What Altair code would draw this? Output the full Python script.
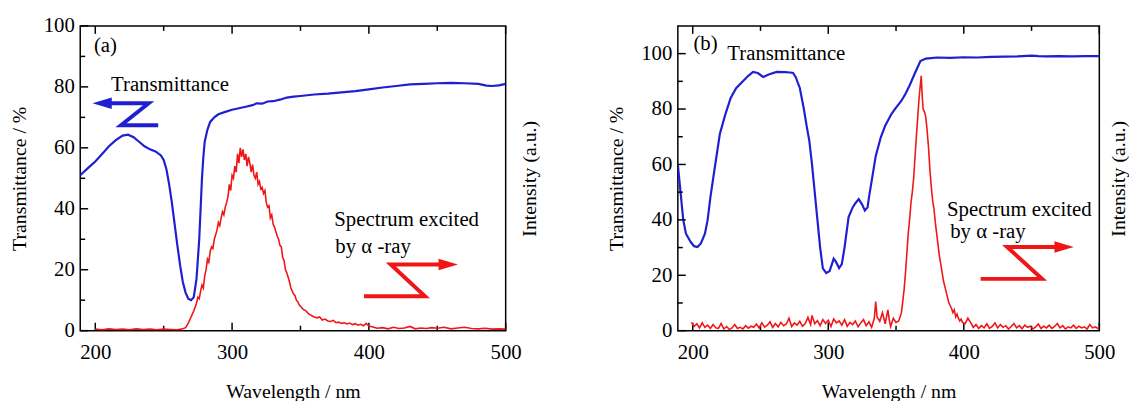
import altair as alt
import pandas as pd

FONT = "Liberation Serif"
BLUE = "#1f1fd2"
RED = "#f01616"
FS = 20     # axis titles
FL = 21     # tick labels
FA = 21     # annotations

# ---------------- Panel (a) ----------------
a_blue_nm = [189, 195, 200, 205, 210, 215, 220, 224, 228, 232, 236, 240, 244, 248, 250, 252, 254, 256, 258, 260,
             262, 264, 266, 268, 270, 272, 274, 276, 277, 278, 279, 280, 282, 284, 287, 290, 295, 300, 305, 310,
             315, 318, 322, 326, 330, 335, 340, 345, 350, 360, 370, 380, 390, 400, 410, 420, 430, 440, 450, 460,
             470, 480, 486, 490, 495, 500]
a_blue_t = [51, 53.5, 55.5, 58, 60.5, 62.5, 64, 64.3, 63.5, 62, 60.5, 59.5, 58.8, 57.5, 56, 53, 48, 42, 35, 28,
            21.5, 16, 12.5, 10.5, 10, 11, 17, 30, 40, 50, 57, 62, 66, 68.5, 70, 71, 71.8, 72.5, 73, 73.5,
            74, 74.6, 74.5, 75.2, 75.3, 75.8, 76.5, 76.8, 77, 77.5, 77.8, 78.2, 78.6, 79.2, 79.8, 80.3, 80.8, 81, 81.2, 81.3,
            81.2, 81, 80.4, 80.3, 80.5, 81]

a_red_nm = [200, 205, 210, 215, 220, 225, 230, 235, 240, 245, 250, 255, 260, 263, 266, 268, 270, 272, 274, 275,
            276, 277, 278, 279, 280, 281, 282, 283, 284, 285, 286, 287, 288, 289, 290, 291, 292, 293, 294, 295,
            296, 297, 298, 299, 300, 301, 302, 303, 304, 305, 306, 307, 308, 309, 310, 311, 312, 313, 314, 315,
            316, 317, 318, 319, 320, 321, 322, 323, 324, 325, 326, 327, 328, 329, 330, 331, 332, 333, 334, 335,
            336, 337, 338, 339, 340, 341, 342, 343, 344, 345, 346, 347, 348, 349, 350, 352, 354, 356, 358, 360,
            362, 364, 366, 368, 370, 372, 374, 376, 378, 380, 382, 384, 386, 388, 390, 392, 394, 396, 398, 400,
            403, 406, 410, 414, 418, 422, 426, 430, 434, 438, 442, 446, 450, 455, 460, 465, 470, 475, 480, 485,
            490, 495, 500]
a_red_i = [0.5, 0.3, 0.6, 0.4, 0.5, 0.3, 0.6, 0.4, 0.5, 0.3, 0.5, 0.4, 0.3, 0.5, 1.0, 2.5, 4.5, 6.5, 9, 11,
           10.5, 13, 15, 14, 18, 20, 23.5, 22.5, 26, 27.5, 27, 30, 31.5, 33, 35.5, 34.5, 37, 39, 38, 40.5,
           42, 44, 48, 46, 51, 50, 54, 52, 58, 55, 60, 57, 59.5, 56, 58, 54, 57, 55, 52, 54.5,
           51, 50, 52, 48, 49, 46.5, 47, 45, 46, 42, 40.5, 41, 37, 38, 35, 34, 32.5, 31, 30, 28,
           27.5, 24, 23, 20, 19, 17.5, 16, 14, 13, 12, 11.5, 10, 9.5, 8.5, 8, 7, 6.5, 5.5, 5, 4.5,
           4.2, 4.5, 3.5, 3.8, 3.2, 3, 3.4, 2.6, 2.8, 2.4, 2.6, 2.2, 2.5, 2.0, 2.3, 1.8, 2.1, 1.6, 2.4, 1.5,
           1.2, 0.8, 1.0, 0.6, 1.1, 0.7, 0.9, 1.4, 0.6, 0.9, 0.7, 1.0, 0.8, 1.1, 0.6, 0.9, 1.1, 0.7, 0.6, 0.8,
           0.5, 0.6, 0.5]

a_text_x = [199, 211.5, 374.7, 375.5]
a_text_y = [93.4, 80.7, 36.3, 27.5]
a_text = ["(a)", "Transmittance", "Spectrum excited", "by  \u03b1 -ray"]

a_barrow_x = [208, 239, 218.8, 246]
a_barrow_y = [74.6, 74.6, 67.4, 67.4]
a_bhead = (205, 74.6)
a_rarrow_x = [396.4, 441, 416, 455]
a_rarrow_y = [11.3, 11.3, 21.7, 21.7]
a_rhead = (458, 21.7)

# ---------------- Panel (b) ----------------
b_blue_nm = [189, 191, 193, 195, 198.5, 201, 203.5, 206, 209, 211, 213, 216, 220, 224, 228, 232, 237, 241, 244.5, 248,
             252, 256, 262, 268, 272, 274, 276, 279, 282, 284, 286, 288, 290, 292, 294, 296, 298.5, 301, 303, 304,
             305.5, 308, 310, 312, 315, 318, 320, 322.5, 325, 327, 329, 330, 332, 335, 338.7, 342, 346.7, 350, 354, 357,
             360, 364, 368, 372, 376, 380, 390, 400, 410, 420, 430, 440, 450, 455, 460, 470, 480, 490, 500]
b_blue_t = [60, 50, 40, 35, 32, 30.5, 30.2, 31.5, 35, 40, 48, 58, 71, 78, 84, 87.5, 90, 92, 93.4, 93,
            91.6, 92.5, 93.4, 93.3, 93.2, 93, 91.5, 87.6, 80, 74, 68.6, 60, 50, 40, 30, 22.5, 20.8, 21.5, 24.5, 26,
            25, 22.6, 24, 30, 41, 44.5, 46, 47.5, 45.5, 43.4, 44.5, 48, 54, 63, 69.7, 74, 78.3, 80.5, 83, 85.5,
            88.5, 93, 97.3, 98.2, 98.4, 98.6, 98.5, 98.7, 98.6, 98.8, 98.9, 99, 99.3, 99.1, 99, 99.1, 99, 99.1, 99.1]

b_red_nm = [199, 201, 203, 205, 207, 209, 211, 213, 215, 217, 219, 221, 223, 225, 227, 229, 231, 233, 235, 237,
            239, 241, 243, 245, 247, 249, 251, 253, 255, 257, 259, 261, 263, 265, 267, 269, 271, 273, 275, 277,
            279, 281, 283, 285, 287, 288, 290, 292, 294, 296, 298, 300, 302, 304, 306, 308, 310, 312, 314, 316,
            318, 320, 322, 324, 326, 328, 330, 332, 334, 335, 336, 338, 340, 342, 344, 345, 346, 348, 350, 352,
            354, 356, 357, 358, 359, 360, 361, 362, 363, 364, 365, 366, 367, 368, 368.6, 369.3, 370, 371, 372, 373,
            374, 375, 376, 377, 378, 379, 380, 381, 382, 383, 384, 385, 386, 387, 388, 389, 390, 391, 392, 393,
            394, 395, 396, 397, 398, 399, 401, 403, 405, 407, 409, 411, 413, 415, 417, 419, 421, 423, 425, 427,
            429, 431, 433, 435, 437, 439, 441, 443, 445, 447, 449, 451, 453, 455, 457, 459, 461, 463, 465, 467,
            469, 471, 473, 475, 477, 479, 481, 483, 485, 487, 489, 491, 493, 495, 497, 499, 500]
b_red_i = [3, 1.5, 2.5, 1, 2.8, 1.2, 2, 0.8, 2.2, 1.0, 0.8, 2.6, 0.6, 1.5, 0.4, 1.0, 2.2, 0.8, 1.2, 0.6,
           1.8, 0.9, 1.6, 1.2, 2.4, 1.0, 2.8, 1.3, 2.0, 3.2, 1.2, 2.6, 1.4, 3.0, 1.8, 2.4, 4.5, 1.5, 2.8, 2.0,
           3.4, 1.6, 2.6, 4.8, 2.2, 5.5, 2.5, 3.6, 1.8, 4.0, 2.6, 3.8, 1.5, 4.2, 2.8, 3.5, 2.0, 4.0, 1.6, 3.0,
           2.2, 3.5, 1.4, 2.8, 4.0, 1.8, 3.2, 1.2, 4.5, 10.5, 5, 3.4, 6.5, 2.5, 7.5, 4, 1.5, 4.5, 3, 3.5,
           6.5, 15, 21, 28, 35, 40, 46, 50, 55, 62.5, 70, 77, 84, 89, 92, 85, 80, 79, 77, 72,
           66, 58, 52, 47, 44, 39, 35, 31, 27, 24, 21, 18, 16, 14, 12, 10, 9, 8, 6.5, 7.5,
           5, 6, 4.5, 3.5, 4.2, 3, 2.5, 4.5, 3, 1.2, 2.2, 0.8, 1.8, 1.0, 2.5, 0.8, 1.5, 2.8, 1.0, 2.2,
           1.2, 1.8, 0.6, 1.5, 2.6, 1.0, 1.8, 0.7, 2.0, 1.2, 1.6, 0.6, 1.4, 2.4, 0.8, 1.6, 1.0, 2.0, 0.8, 1.5,
           2.6, 1.0, 1.8, 0.6, 1.4, 1.0, 2.0, 0.8, 1.6, 1.0, 1.4, 0.6, 2.2, 1.0, 1.4, 0.8, 1.2]

b_text_x = [200.5, 225.5, 387.6, 390]
b_text_y = [103.4, 99.8, 43.4, 35.5]
b_text = ["(b)", "Transmittance", "Spectrum excited", "by  \u03b1 -ray"]

b_rarrow_x = [412.4, 457.7, 432, 470]
b_rarrow_y = [18.7, 18.7, 30.2, 30.2]
b_rhead = (474, 30.2)

x_major = [200, 300, 400, 500]
x_minor = [250, 350, 450]
a_y_major = [0, 20, 40, 60, 80, 100]
a_y_minor = [10, 30, 50, 70, 90]
b_y_major = [0, 20, 40, 60, 80, 100]
b_y_minor = [10, 30, 50, 70, 90]

XDOM = [189, 500]
HEAD_RIGHT = "M-1,-0.6L1,0L-1,0.6Z"
HEAD_LEFT = "M1,-0.6L-1,0L1,0.6Z"


def panel(blue_nm, blue_t, red_nm, red_i, ymax, ymaj, ymin, tx, ty, tt,
          rarrow, rhead, barrow, bhead, W, H, right_pad):
    xs = alt.Scale(domain=XDOM, nice=False, zero=False)
    ys = alt.Scale(domain=[0, ymax], nice=False)
    XA = alt.Axis(
        values=x_major, ticks=False, tickSize=0, domain=False, grid=False, labelFlush=False,
        labelFont=FONT, labelFontSize=FL, labelPadding=11, labelColor="black",
        title="Wavelength / nm", titleFont=FONT, titleFontSize=FS,
        titleFontWeight="normal", titlePadding=20, titleColor="black")
    YA = alt.Axis(
        values=ymaj, ticks=False, tickSize=0, domain=False, grid=False, labelFlush=False,
        labelFont=FONT, labelFontSize=FL, labelPadding=6, labelColor="black",
        title="Transmittance / %", titleFont=FONT, titleFontSize=FS,
        titleFontWeight="normal", titlePadding=14, titleColor="black")

    def X(f):
        return alt.X(f, scale=xs, axis=XA, title="Wavelength / nm")

    def Y(f):
        return alt.Y(f, scale=ys, axis=YA, title="Transmittance / %")

    blue = alt.Chart(pd.DataFrame({"w": blue_nm, "t": blue_t})).mark_line(
        color=BLUE, strokeWidth=2.2, clip=True
    ).encode(x=X("w:Q"), y=Y("t:Q"))

    def ytick(vals, L):
        return alt.Chart(pd.DataFrame({"v": vals})).mark_rule(color="black", strokeWidth=1.5).encode(
            y=Y("v:Q"), x=alt.value(0), x2=alt.value(L))

    def xtick(vals, L, top=False):
        if top:
            yv, y2v = alt.value(0), alt.value(L)
        else:
            yv, y2v = alt.value(H), alt.value(H - L)
        return alt.Chart(pd.DataFrame({"v": vals})).mark_rule(color="black", strokeWidth=1.5).encode(
            x=X("v:Q"), y=yv, y2=y2v)

    texts = alt.Chart(pd.DataFrame({"x": tx, "y": ty, "s": tt})).mark_text(
        font=FONT, fontSize=FA, align="left", baseline="middle", color="black"
    ).encode(x=X("x:Q"), y=Y("y:Q"), text="s:N")

    layers = [blue, ytick(ymaj, 8), ytick(ymin, 5), xtick(x_major, 8), xtick(x_minor, 5),
              xtick(x_major, 8, True), xtick(x_minor, 5, True), texts]

    def arrow(ax, ay, head, color, shape):
        line = alt.Chart(pd.DataFrame({"x": ax, "y": ay, "o": list(range(len(ax)))})).mark_line(
            color=color, strokeWidth=4, strokeJoin="miter"
        ).encode(x=X("x:Q"), y=Y("y:Q"), order="o:Q")
        hd = alt.Chart(pd.DataFrame({"x": [head[0]], "y": [head[1]]})).mark_point(
            shape=shape, filled=True, color=color, opacity=1, size=380, strokeWidth=0
        ).encode(x=X("x:Q"), y=Y("y:Q"))
        return [line, hd]

    layers += arrow(rarrow[0], rarrow[1], rhead, RED, HEAD_RIGHT)
    if barrow is not None:
        layers += arrow(barrow[0], barrow[1], bhead, BLUE, HEAD_LEFT)

    inner = alt.layer(*layers)

    red = alt.Chart(pd.DataFrame({"w": red_nm, "i": red_i})).mark_line(
        color=RED, strokeWidth=1.6, clip=True
    ).encode(
        x=X("w:Q"),
        y=alt.Y("i:Q", scale=alt.Scale(domain=[0, ymax], nice=False), axis=alt.Axis(
            orient="right", labels=False, ticks=False, domain=False, grid=False,
            title="Intensity (a.u.)", titleFont=FONT, titleFontSize=FS, titleAngle=270,
            titleBaseline="top", titleFontWeight="normal", titlePadding=right_pad, titleColor="black")),
    )

    return alt.layer(inner, red).resolve_scale(y="independent").properties(width=W, height=H)


pa = panel(a_blue_nm, a_blue_t, a_red_nm, a_red_i, 100, a_y_major, a_y_minor,
           a_text_x, a_text_y, a_text, (a_rarrow_x, a_rarrow_y), a_rhead,
           (a_barrow_x, a_barrow_y), a_bhead, 430, 308, 14)
pb = panel(b_blue_nm, b_blue_t, b_red_nm, b_red_i, 110, b_y_major, b_y_minor,
           b_text_x, b_text_y, b_text, (b_rarrow_x, b_rarrow_y), b_rhead,
           None, None, 426, 308, 9)

chart = alt.hconcat(pa, pb, spacing=66).properties(
    padding={"left": 0, "top": 4, "right": 0, "bottom": 0},
    background="white",
).configure_view(stroke="black", strokeWidth=1.5)

chart.save("out.html", embed_options={"renderer": "svg", "actions": False})
